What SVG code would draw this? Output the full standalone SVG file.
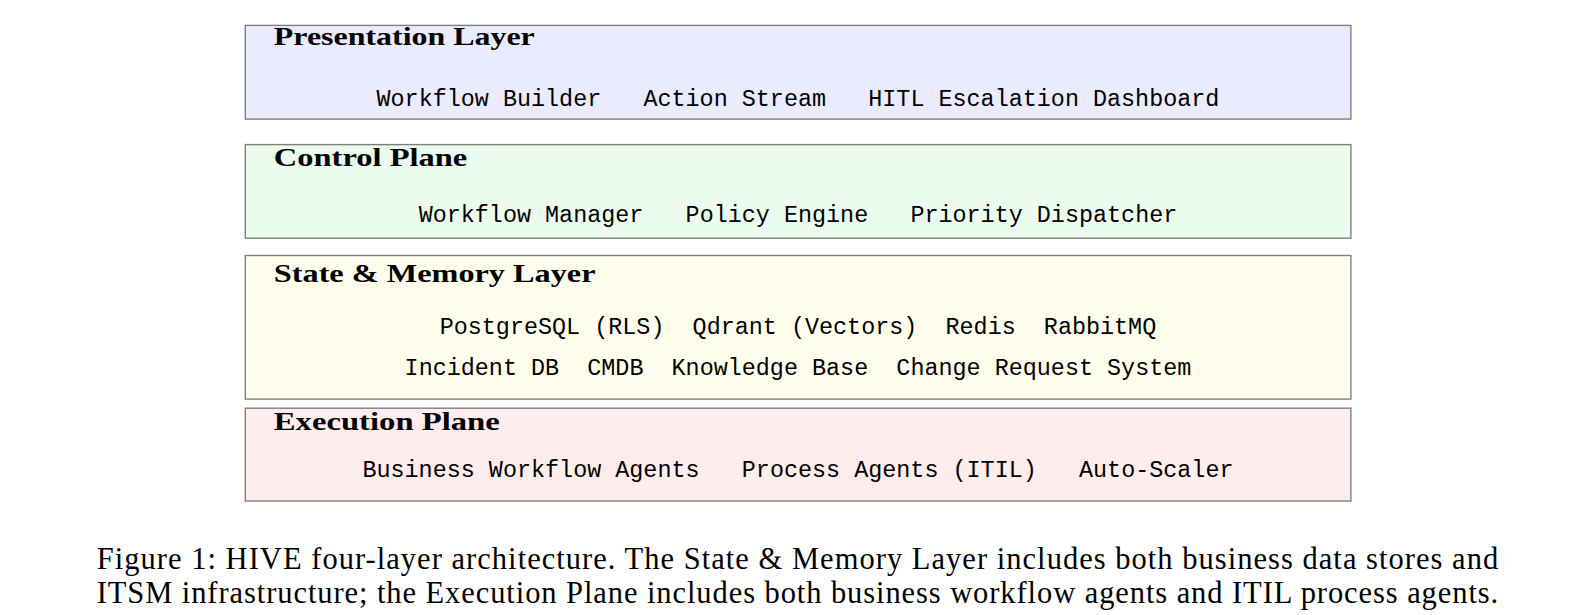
<svg xmlns="http://www.w3.org/2000/svg" width="1596" height="615" viewBox="0 0 1596 615">
  <style>
    .layer { stroke: #808080; stroke-width: 1.4; }
    .title { font-family: "Liberation Serif", "Times New Roman", serif; font-weight: bold; font-size: 25.5px; fill: #000; }
    .mono { font-family: "Liberation Mono", "Courier New", monospace; font-size: 23.42px; fill: #000; }
    .cap { font-family: "Liberation Serif", "Times New Roman", serif; font-size: 30.5px; fill: #000; }
  </style>
  <rect width="1596" height="615" fill="#ffffff"/>
  <g id="connectors"></g>
  <g id="presentation-layer">
    <rect class="layer" x="245.3" y="25.4" width="1105.6" height="93.7" fill="#EBEBFF"/>
    <text class="title" x="273.8" y="45" textLength="261" lengthAdjust="spacingAndGlyphs">Presentation Layer</text>
    <text class="mono" y="105.8"><tspan x="376.5">Workflow Builder</tspan><tspan x="643.45">Action Stream</tspan><tspan x="868.25">HITL Escalation Dashboard</tspan></text>
  </g>
  <g id="control-plane">
    <rect class="layer" x="245.3" y="144.6" width="1105.6" height="93.6" fill="#EBFCEE"/>
    <text class="title" x="273.8" y="166" textLength="193.5" lengthAdjust="spacingAndGlyphs">Control Plane</text>
    <text class="mono" y="222"><tspan x="418.65">Workflow Manager</tspan><tspan x="685.6">Policy Engine</tspan><tspan x="910.4">Priority Dispatcher</tspan></text>
  </g>
  <g id="state-memory-layer">
    <rect class="layer" x="245.3" y="255.5" width="1105.6" height="143.6" fill="#FFFDEB"/>
    <text class="title" x="273.8" y="282" textLength="321.7" lengthAdjust="spacingAndGlyphs">State &amp; Memory Layer</text>
    <text class="mono" y="334"><tspan x="439.7">PostgreSQL (RLS)</tspan><tspan x="692.6">Qdrant (Vectors)</tspan><tspan x="945.5">Redis</tspan><tspan x="1043.85">RabbitMQ</tspan></text>
    <text class="mono" y="374.6"><tspan x="404.6">Incident DB</tspan><tspan x="587.25">CMDB</tspan><tspan x="671.55">Knowledge Base</tspan><tspan x="896.35">Change Request System</tspan></text>
  </g>
  <g id="execution-plane">
    <rect class="layer" x="245.3" y="408.2" width="1105.6" height="92.8" fill="#FFECEC"/>
    <text class="title" x="273.8" y="430.3" textLength="226" lengthAdjust="spacingAndGlyphs">Execution Plane</text>
    <text class="mono" y="477"><tspan x="362.45">Business Workflow Agents</tspan><tspan x="741.8">Process Agents (ITIL)</tspan><tspan x="1079">Auto-Scaler</tspan></text>
  </g>
  <g id="caption">
    <text class="cap" x="96.7" y="568.5" textLength="1401.5" lengthAdjust="spacing">Figure 1: HIVE four-layer architecture. The State &amp; Memory Layer includes both business data stores and</text>
    <text class="cap" x="96.7" y="603" textLength="1401.5" lengthAdjust="spacing">ITSM infrastructure; the Execution Plane includes both business workflow agents and ITIL process agents.</text>
  </g>
</svg>
